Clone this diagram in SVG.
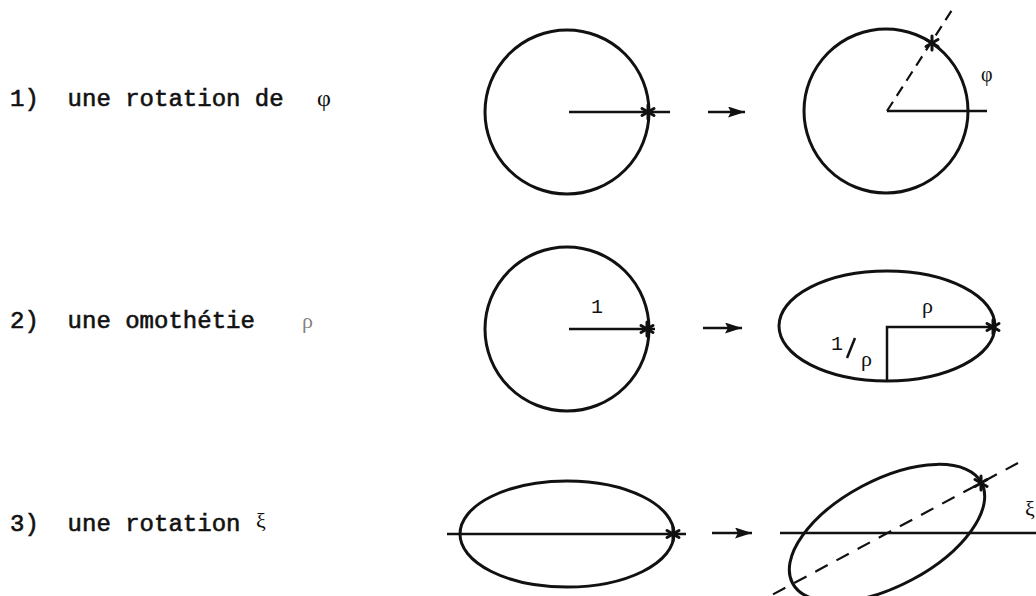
<svg xmlns="http://www.w3.org/2000/svg" width="1036" height="596" viewBox="0 0 1036 596">
  <style>
    .caption { font-family: "Liberation Mono", "DejaVu Sans Mono", monospace; font-size: 24px; fill: #111; stroke: #111; stroke-width: 0.6; }
    .sym { font-family: "Liberation Serif", "DejaVu Serif", serif; fill: #111; }
    .small { font-family: "Liberation Mono", "DejaVu Sans Mono", monospace; font-size: 20px; fill: #111; }
    .curve { fill: none; stroke: #111; stroke-width: 3; }
    .ray { fill: none; stroke: #111; stroke-width: 2.5; }
    .dash { fill: none; stroke: #111; stroke-width: 2.2; stroke-dasharray: 11 7; }
    .dash-long { fill: none; stroke: #111; stroke-width: 2.2; stroke-dasharray: 14 10; }
    .arrow { fill: none; stroke: #111; stroke-width: 2.5; marker-end: url(#head); }
  </style>
  <defs>
    <marker id="head" markerUnits="userSpaceOnUse" markerWidth="17" markerHeight="11" refX="17" refY="5.5" orient="auto">
      <path d="M0,0 L17,5.5 L0,11 L3,5.5 Z" fill="#111"/>
    </marker>
    <!-- six-armed mark for the tracked point -->
    <g id="star" stroke="#111" stroke-width="3" stroke-linecap="round">
      <line x1="0" y1="-7" x2="0" y2="7"/>
      <line x1="-6" y1="-3.5" x2="6" y2="3.5"/>
      <line x1="-6" y1="3.5" x2="6" y2="-3.5"/>
    </g>
  </defs>

  <rect width="1036" height="596" fill="#fff"/>

  <!-- step captions -->
  <g id="caption-1">
    <text class="caption" x="10" y="106" xml:space="preserve">1)  une rotation de</text>
    <text class="sym" x="317" y="106" font-size="24">φ</text>
  </g>
  <g id="caption-2">
    <text class="caption" x="10" y="328" xml:space="preserve">2)  une omothétie</text>
    <text class="sym" x="302" y="328" font-size="22" fill-opacity="0.55">ρ</text>
  </g>
  <g id="caption-3">
    <text class="caption" x="10" y="531" xml:space="preserve">3)  une rotation</text>
    <text class="sym" x="256" y="528" font-size="22">ξ</text>
  </g>

  <!-- row 1: rotation by phi -->
  <g id="fig-1-before">
    <circle class="curve" cx="567" cy="112" r="82"/>
    <line class="ray" x1="569" y1="112" x2="670" y2="112"/>
    <use href="#star" x="648" y="112"/>
  </g>
  <g id="fig-1-after">
    <circle class="curve" cx="886" cy="111" r="82"/>
    <line class="ray" x1="887" y1="111" x2="987" y2="111"/>
    <line class="dash" x1="887" y1="111" x2="952" y2="10"/>
    <use href="#star" x="932" y="43"/>
    <text class="sym" x="981" y="81" font-size="20">φ</text>
  </g>

  <!-- row 2: scaling by rho -->
  <g id="fig-2-before">
    <circle class="curve" cx="567" cy="329" r="82"/>
    <line class="ray" x1="569" y1="329" x2="655" y2="329"/>
    <use href="#star" x="647" y="329"/>
    <text class="small" x="591" y="313">1</text>
  </g>
  <g id="fig-2-after">
    <ellipse class="curve" cx="887" cy="326" rx="108" ry="55"/>
    <polyline class="ray" points="993,327 887,327 887,380"/>
    <use href="#star" x="993" y="327"/>
    <text class="sym" x="922" y="313" font-size="22">ρ</text>
    <text class="small" x="831" y="350" font-size="18">1</text>
    <line class="ray" x1="855" y1="338" x2="847" y2="358"/>
    <text class="sym" x="861" y="366" font-size="22">ρ</text>
  </g>

  <!-- row 3: rotation by xi -->
  <g id="fig-3-before">
    <ellipse class="curve" cx="567" cy="534" rx="107" ry="53"/>
    <line class="ray" x1="447" y1="534" x2="686" y2="534"/>
    <use href="#star" x="673" y="534"/>
  </g>
  <g id="fig-3-after">
    <ellipse class="curve" cx="887" cy="533" rx="107" ry="53" transform="rotate(-28 887 533)"/>
    <line class="ray" x1="780" y1="533" x2="1036" y2="533"/>
    <line class="dash-long" x1="1018" y1="463" x2="770" y2="596"/>
    <use href="#star" x="981" y="483"/>
    <text class="sym" x="1025" y="516" font-size="22">ξ</text>
  </g>

  <!-- transition arrows -->
  <g id="connectors">
    <line class="arrow" x1="708" y1="112" x2="745" y2="112"/>
    <line class="arrow" x1="703" y1="328" x2="742" y2="328"/>
    <line class="arrow" x1="712" y1="533" x2="752" y2="533"/>
  </g>
</svg>
